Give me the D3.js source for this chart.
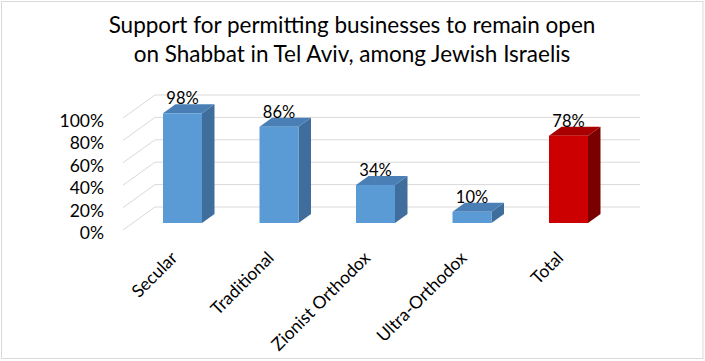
<!DOCTYPE html>
<html>
<head>
<meta charset="utf-8">
<script src="https://cdn.jsdelivr.net/npm/d3@7"></script>
<style>
  html, body { margin: 0; padding: 0; background: #fff; }
  svg { display: block; }
  text { font-family: Lato, "Open Sans", sans-serif; fill: #000; }
</style>
</head>
<body>
<svg id="chart" width="705" height="361"></svg>
<script>
// ---- data ----
const categories = ["Secular", "Traditional", "Zionist Orthodox", "Ultra-Orthodox", "Total"];
const values = [98, 86, 34, 10, 78];
const valueLabels = ["98%", "86%", "34%", "10%", "78%"];
const yTicks = [0, 20, 40, 60, 80, 100];
const yTickLabels = ["0%", "20%", "40%", "60%", "80%", "100%"];
const titleLines = ["Support for permitting businesses to remain open",
                    "on Shabbat in Tel Aviv, among Jewish Israelis"];

// ---- styles ----
const W = 705, H = 361;
const blue = { front: "#5b9bd5", side: "#3f6d9c", top: "#4a7fb6" };
const red  = { front: "#cc0000", side: "#7a0000", top: "#a80000" };
const gridColor = "#d9d9d9";

const svg = d3.select("#chart");
svg.append("rect").attr("x", 0).attr("y", 0).attr("width", W).attr("height", H).attr("fill", "#fff");
svg.append("rect").attr("x", 1.5).attr("y", 1.5).attr("width", 701.5).attr("height", 357)
  .attr("fill", "none").attr("stroke", "#d9d9d9").attr("stroke-width", 1);

// Title
svg.append("g").selectAll("text").data(titleLines).join("text")
  .attr("x", 352).attr("y", (d, i) => 33 + i * 29)
  .attr("text-anchor", "middle").attr("font-size", 22.5)
  .text(d => d);

// ---- scales (depth-0 = floor front plane) ----
const depthK = 1.39;              // horizontal shift per unit of depth
const y = d3.scaleLinear().domain([0, 100]).range([230, 118]);
const floorX0 = 123, wallDepth = 23, wallRight = 640;
const barFrontDepth = 7, barDepth = 9;

const x = d3.scaleBand().domain(categories).range([134.25, 616.75])
  .paddingInner(0.596).paddingOuter(0.298);

// Gridlines: side diagonals + back wall
const grid = svg.append("g");
yTicks.forEach(t => {
  const y0 = y(t), yb = y(t) - wallDepth, xb = floorX0 + wallDepth * depthK;
  grid.append("path")
    .attr("d", `M${floorX0},${y0}L${xb},${yb}L${wallRight},${yb}`)
    .attr("fill", "none").attr("stroke", gridColor).attr("stroke-width", 1);
});

// Y tick labels
svg.append("g").selectAll("text").data(yTicks).join("text")
  .attr("x", 104).attr("y", d => y(d) + 2.5)
  .attr("text-anchor", "end").attr("dominant-baseline", "central")
  .attr("font-size", 17.5)
  .text((d, i) => yTickLabels[i]);

// Bars
const bars = svg.append("g");
categories.forEach((c, i) => {
  const col = c === "Total" ? red : blue;
  const fx = x(c), w = x.bandwidth();
  const fy = y(values[i]) - barFrontDepth;     // front top
  const by = y(0) - barFrontDepth;              // front bottom
  const dx = barDepth * depthK, dy = -barDepth;
  // side face
  bars.append("path")
    .attr("d", `M${fx + w},${by}L${fx + w + dx},${by + dy}L${fx + w + dx},${fy + dy}L${fx + w},${fy}Z`)
    .attr("fill", col.side);
  // top face
  bars.append("path")
    .attr("d", `M${fx},${fy}L${fx + dx},${fy + dy}L${fx + w + dx},${fy + dy}L${fx + w},${fy}Z`)
    .attr("fill", col.top);
  // front face
  bars.append("rect")
    .attr("x", fx).attr("y", fy).attr("width", w).attr("height", by - fy)
    .attr("fill", col.front);
  // value label
  bars.append("text")
    .attr("x", fx + w / 2).attr("y", fy + dy)
    .attr("text-anchor", "middle").attr("font-size", 16.5)
    .text(valueLabels[i]);
});

// Category labels
svg.append("g").selectAll("text").data(categories).join("text")
  .attr("text-anchor", "end").attr("font-size", 17.5)
  .attr("transform", d => `translate(${x(d) + x.bandwidth() / 2 - 4},${259}) rotate(-45)`)
  .text(d => d);
</script>
</body>
</html>
